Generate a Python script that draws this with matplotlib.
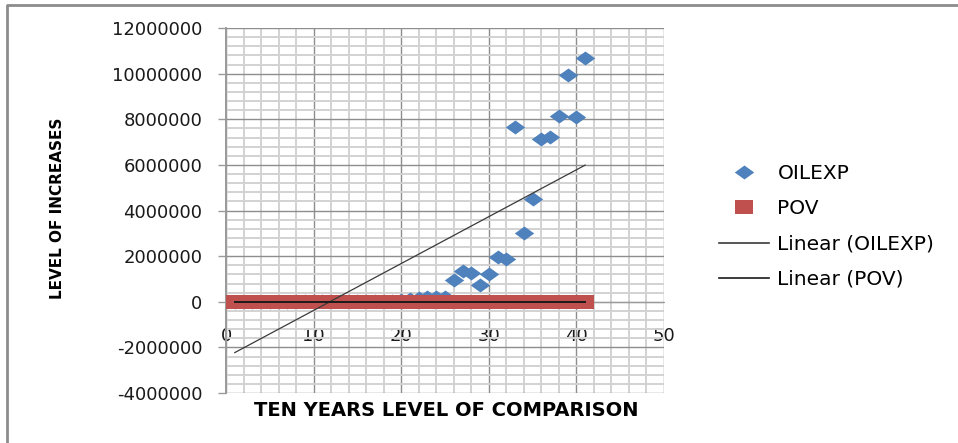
import numpy as np
import matplotlib
matplotlib.use("Agg")
import matplotlib.pyplot as plt
from matplotlib.lines import Line2D
from matplotlib.ticker import MultipleLocator, FuncFormatter

# ------------------------------------------------------------
# data read off the chart (x = observation number)
# ------------------------------------------------------------
years = list(range(1, 42))

oilexp = [3000, 4000, 5000, 6000, 8000, 9000, 10000, 12000, 15000, 18000,
          20000, 22000, 25000, 28000, 30000, 33000, 36000, 40000, 50000, 70000,
          130000, 170000, 200000, 210000, 190000, 960000, 1330000, 1260000, 750000, 1230000,
          1970000, 1880000, 7660000, 3000000, 4500000, 7130000, 7220000, 8130000, 9960000, 8080000,
          10690000]

pov = [0, 0, 0, 0, 0, 0, 0, 0, 0, 0,
       0, 0, 0, 0, 0, 0, 0, 0, 0, 0,
       0, 0, 0, 0, 0, 0, 0, 0, 0, 0,
       0, 0, 0, 0, 0, 0, 0, 0, 0, 0,
       0]

x_ticks = [0, 10, 20, 30, 40, 50]
y_ticks = [-4000000, -2000000, 0, 2000000, 4000000, 6000000, 8000000, 10000000, 12000000]

BLUE = "#4F81BD"
RED = "#C0504D"

# stretched diamond / box markers like the Excel export
diamond = [(0, -0.72), (1, 0), (0, 0.72), (-1, 0), (0, -0.72)]
box = [(-1, -0.8), (1, -0.8), (1, 0.8), (-1, 0.8), (-1, -0.8)]

x = np.array(years, dtype=float)
oil = np.array(oilexp, dtype=float)
pv = np.array(pov, dtype=float)

# linear trend lines (same as Excel "Linear" trendline)
oil_fit = np.polyval(np.polyfit(x, oil, 1), x)
pov_fit = np.polyval(np.polyfit(x, pv, 1), x)

W, H = 958, 443
fig = plt.figure(figsize=(W / 100, H / 100), dpi=100)
ax = fig.add_axes([226 / W, 1 - 393 / H, (664 - 226) / W, (393 - 28) / H])

ax.plot(x, oil, linestyle="none", marker=diamond, markersize=14,
        color=BLUE, markeredgewidth=0, zorder=3)
ax.plot(x, pv, linestyle="none", marker=box, markersize=12.5,
        color=RED, markeredgewidth=0, zorder=4)
ax.plot(x, oil_fit, color="#3a3a3a", linewidth=0.9, zorder=5)
ax.plot(x, pov_fit, color="#1a1a1a", linewidth=1.4, zorder=5)

ax.set_xlim(0, 50)
ax.set_ylim(-4000000, 12000000)
ax.set_xticks(x_ticks)
ax.set_yticks(y_ticks)
ax.xaxis.set_minor_locator(MultipleLocator(2))
ax.yaxis.set_minor_locator(MultipleLocator(400000))
ax.yaxis.set_major_formatter(FuncFormatter(lambda v, p: f"{int(round(v))}"))
ax.xaxis.set_major_formatter(FuncFormatter(lambda v, p: f"{int(round(v))}"))

ax.grid(which="minor", color="#d2d2d2", linewidth=1.4, zorder=0)
ax.grid(which="major", color="#8e8e8e", linewidth=1.0, zorder=1)
ax.set_axisbelow(True)

for s in ["top", "right"]:
    ax.spines[s].set_visible(False)
ax.spines["left"].set_color("#9a9a9a")
ax.spines["left"].set_linewidth(1.4)
ax.spines["bottom"].set_position(("data", 0))
ax.spines["bottom"].set_color("#9a9a9a")

ax.tick_params(axis="x", which="both", length=0, pad=18, labelsize=13, labelcolor="#1a1a1a")
ax.tick_params(axis="y", which="major", length=6, width=1, color="#9a9a9a",
               pad=11, labelsize=13, labelcolor="#1a1a1a")
ax.tick_params(axis="y", which="minor", length=0)

fig.text(446 / W, 1 - 410 / H, "TEN YEARS LEVEL OF COMPARISON",
         ha="center", va="center", fontsize=14, fontweight="bold")
fig.text(58 / W, 1 - 208 / H, "LEVEL OF INCREASES", rotation=90,
         ha="center", va="center", fontsize=11, fontweight="bold")

handles = [
    Line2D([], [], linestyle="none", marker=diamond, markersize=14, color=BLUE, markeredgewidth=0),
    Line2D([], [], linestyle="none", marker=box, markersize=12.5, color=RED, markeredgewidth=0),
    Line2D([], [], color="#3a3a3a", linewidth=1.2),
    Line2D([], [], color="#1a1a1a", linewidth=1.2),
]
labels = ["OILEXP", "POV", "Linear (OILEXP)", "Linear (POV)"]
fig.legend(handles, labels, loc="center left", bbox_to_anchor=(719 / W, 1 - 226.5 / H),
           frameon=False, fontsize=14.5, handlelength=2.5, handletextpad=0.4,
           labelspacing=0.8, borderpad=0, borderaxespad=0)

# outer chart border (left and top visible)
fig.add_artist(Line2D([7 / W, 7 / W, 1], [0, 1 - 5 / H, 1 - 5 / H],
                      transform=fig.transFigure, color="#8c8c8c", linewidth=2))

fig.savefig("out.png", dpi=100)
